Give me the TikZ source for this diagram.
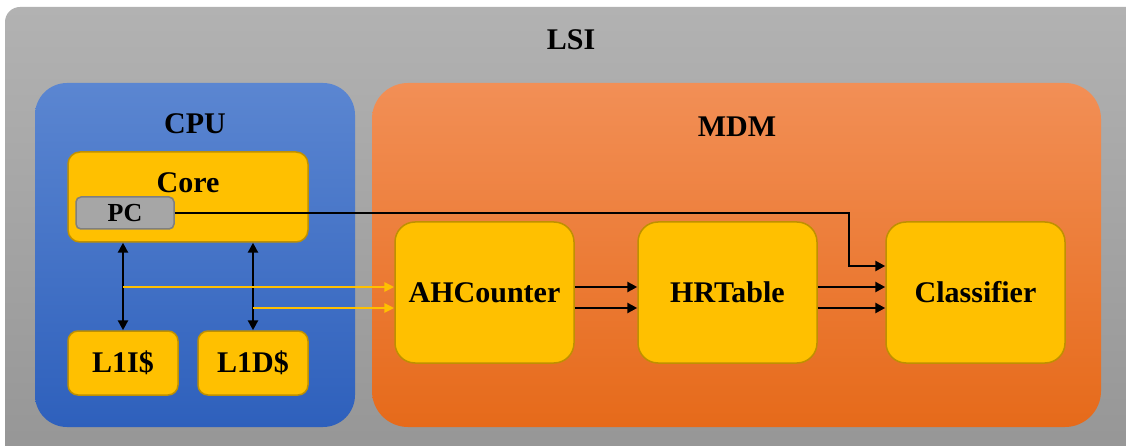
\documentclass[tikz,border=0pt]{standalone}
\usepackage{fontspec}
\setmainfont{Liberation Serif}
\usetikzlibrary{arrows.meta}

\definecolor{lsitop}{HTML}{B2B2B2}
\definecolor{lsibot}{HTML}{959595}
\definecolor{cputop}{HTML}{5B86D1}
\definecolor{cpubot}{HTML}{2E60BC}
\definecolor{mdmtop}{HTML}{F28F56}
\definecolor{mdmbot}{HTML}{E66A1A}
\definecolor{gold}{HTML}{FFC000}
\definecolor{goldedge}{HTML}{BF9000}
\definecolor{pcgray}{HTML}{A6A6A6}
\definecolor{pcedge}{HTML}{7F7F7F}

\tikzset{
  lbl/.style={font=\bfseries\fontsize{30}{36}\selectfont, text=black},
  unit/.style={draw=goldedge, line width=1.5pt, fill=gold, lbl,
               minimum width=#1, inner sep=0pt},
  bigunit/.style={unit=179pt, minimum height=141pt, rounded corners=20pt},
  cache/.style={unit=110pt, minimum height=64pt, rounded corners=10pt},
  bus/.style={line width=2.8pt, black},
  busarrow/.style={bus, -{Triangle[length=10pt,width=10pt]}},
  busboth/.style={bus, {Triangle[length=10pt,width=10pt]}-{Triangle[length=10pt,width=10pt]}},
  fetch/.style={line width=2.5pt, gold, -{Triangle[length=10pt,width=9pt]}},
}

\begin{document}
\begin{tikzpicture}[x=1pt, y=-1pt]
  \useasboundingbox (0,0) rectangle (1126,446);

  % chip outline
  \path[top color=lsitop, bottom color=lsibot, rounded corners=15pt]
    (5,7) rectangle (1160,470);
  \node[lbl] (lsi) at (571,40) {LSI};

  % CPU and MDM blocks
  \node[top color=cputop, bottom color=cpubot, rounded corners=32pt,
        minimum width=320pt, minimum height=344pt, inner sep=0pt]
    (cpu) at (195,255) {};
  \node[lbl] (cpulbl) at (195,124) {CPU};

  \node[top color=mdmtop, bottom color=mdmbot, rounded corners=36pt,
        minimum width=729pt, minimum height=344pt, inner sep=0pt]
    (mdm) at (736.5,255) {};
  \node[lbl] (mdmlbl) at (737,127) {MDM};

  % inside the CPU
  \node[unit=240pt, minimum height=90pt, rounded corners=12pt] (core) at (188,197) {};
  \node[lbl] (corelbl) at (188,183) {Core};
  \node[draw=pcedge, line width=1.5pt, fill=pcgray, rounded corners=5pt,
        minimum width=98pt, minimum height=32pt, inner sep=0pt,
        font=\bfseries\fontsize{26}{30}\selectfont] (pc) at (125,213) {PC};
  \node[cache] (l1i) at (123,363) {L1I\$};
  \node[cache] (l1d) at (253,363) {L1D\$};

  % inside the MDM
  \node[bigunit] (ahc) at (484.5,292.5) {AHCounter};
  \node[bigunit] (hrt) at (727.5,292.5) {HRTable};
  \node[bigunit] (cls) at (975.5,292.5) {Classifier};

  % core <-> caches
  \draw[busboth] (l1i.north |- core.south) -- (l1i.north);
  \draw[busboth] (l1d.north |- core.south) -- (l1d.north);

  % tapped fetch / data streams
  \coordinate (tapi) at (123,287);
  \coordinate (tapd) at (253,308);
  \draw[fetch] (tapi) -- (ahc.west |- tapi);
  \draw[fetch] (tapd) -- (ahc.west |- tapd);

  % pipeline
  \draw[busarrow] (ahc.east |- tapi) -- (hrt.west |- tapi);
  \draw[busarrow] (ahc.east |- tapd) -- (hrt.west |- tapd);
  \draw[busarrow] (hrt.east |- tapi) -- (cls.west |- tapi);
  \draw[busarrow] (hrt.east |- tapd) -- (cls.west |- tapd);

  % program counter feed
  \coordinate (pcbend) at (849,266);
  \draw[busarrow] (pc.east) -| (pcbend) -- (cls.west |- pcbend);
\end{tikzpicture}
\end{document}
